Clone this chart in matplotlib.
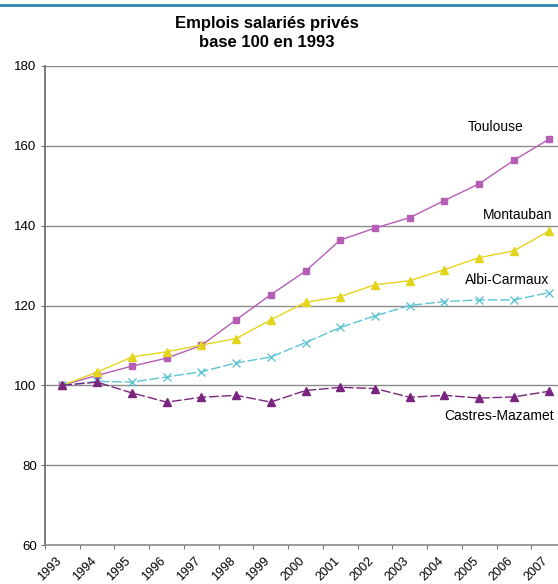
import matplotlib.pyplot as plt
import numpy as np
from matplotlib.lines import Line2D

plt.rcParams['font.family'] = ['Liberation Sans', 'DejaVu Sans']

# ---- data ----
years = [str(y) for y in range(1993, 2008)]

toulouse = [100, 102.5, 104.8, 106.8, 110.0, 116.4, 122.7, 128.6, 136.4,
            139.4, 142.0, 146.3, 150.5, 156.4, 161.6]
montauban = [100, 103.3, 107.1, 108.4, 110.1, 111.7, 116.4, 120.8, 122.2,
             125.2, 126.2, 129.0, 132.0, 133.7, 138.6]
albi = [100, 101.0, 100.8, 102.1, 103.4, 105.6, 107.1, 110.7, 114.5,
        117.4, 120.0, 121.0, 121.4, 121.4, 123.2]
castres = [100, 100.8, 98.1, 95.8, 97.0, 97.5, 95.8, 98.7, 99.5,
           99.2, 97.0, 97.5, 96.8, 97.1, 98.5]

series_names = ["Toulouse", "Montauban", "Albi-Carmaux", "Castres-Mazamet"]
yticks = [60, 80, 100, 120, 140, 160, 180]

#=========================================================#

fig = plt.figure(figsize=(5.58, 5.84), dpi=100)
ax = fig.add_axes([45/558, 1-545/584, 521/558, 479/584])

x = np.arange(len(years))

ax.plot(x, toulouse, "-", color="#b65db5", lw=1.0, marker="s", ms=5, label=series_names[0])
ax.plot(x, montauban, "-", color="#e4d41c", lw=1.0, marker="^", ms=5.5, label=series_names[1])
ax.plot(x, albi, "-", color="#5ec4d4", lw=1.0, marker="x", ms=5.5, mew=1.0,
        dashes=(7, 2), label=series_names[2])
ax.plot(x, castres, "-", color="#7a2580", lw=1.0, marker="^", ms=5.5,
        dashes=(7, 2), label=series_names[3])

ax.set_xlim(-0.5, len(years) - 0.5)
ax.set_ylim(60, 180)
ax.set_yticks(yticks)
ax.set_yticklabels([str(v) for v in yticks], fontsize=9.5)

# category ticks between labels, labels slightly left of category centres
ax.set_xticks(np.arange(-0.5, len(years), 1.0))
ax.set_xticklabels([])
ax.set_xticks(x - 0.2, minor=True)
ax.set_xticklabels(years, minor=True, rotation=45, ha="right",
                   rotation_mode="anchor", fontsize=9)
ax.tick_params(axis="x", which="major", length=3, color="#777777", direction="out")
ax.tick_params(axis="x", which="minor", length=0, pad=7)
ax.tick_params(axis="y", length=3, color="#777777", pad=3)

ax.grid(True, axis="y", color="#8c8c8c", lw=1.0)
ax.set_axisbelow(True)
for s in ["top", "right"]:
    ax.spines[s].set_visible(False)
ax.spines["left"].set_color("#666666")
ax.spines["left"].set_linewidth(1.2)
ax.spines["bottom"].set_color("#8c8c8c")
ax.spines["bottom"].set_linewidth(1.2)

# series labels
ax.text(13.27, 164.6, "Toulouse", fontsize=10, ha="right", va="center")
ax.text(14.11, 142.7, "Montauban", fontsize=10, ha="right", va="center")
ax.text(14.02, 126.3, "Albi-Carmaux", fontsize=10, ha="right", va="center")
ax.text(14.14, 92.2, "Castres-Mazamet", fontsize=10, ha="right", va="center")

fig.text(267/558, 1-33/584, "Emplois salariés privés\nbase 100 en 1993",
         ha="center", va="center", fontsize=12, fontweight="bold", linespacing=1.35)

fig.add_artist(Line2D([0, 1], [1-5/584, 1-5/584], color="#2e86ab", lw=2.0,
                      transform=fig.transFigure))

plt.savefig("out.png", dpi=100)
